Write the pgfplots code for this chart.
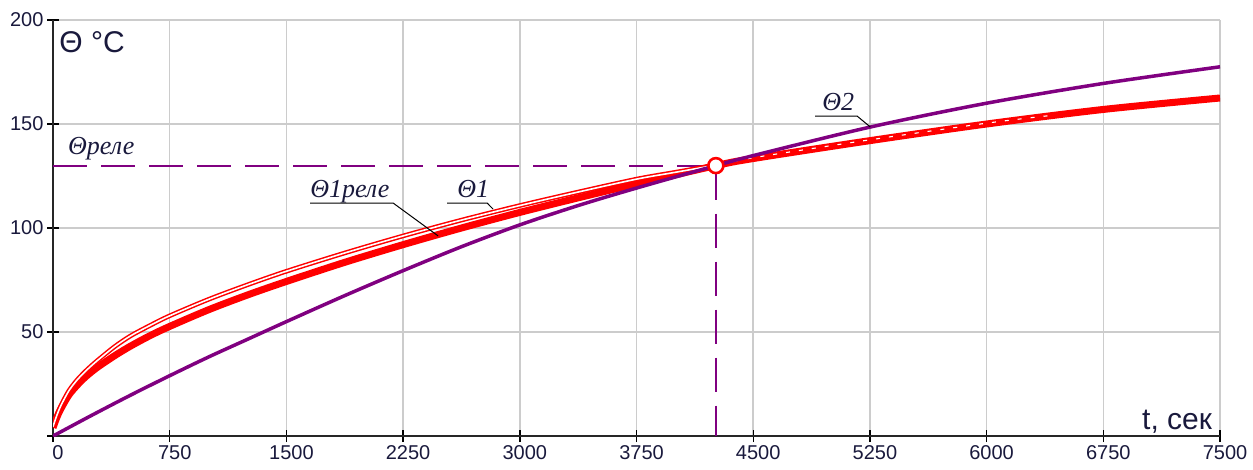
\documentclass[border=0pt]{standalone}
\usepackage{fontspec}
\setmainfont{Liberation Sans}
\newfontfamily\tnr{Liberation Serif}
\usepackage{pgfplots}
\pgfplotsset{compat=1.18}
\definecolor{pur}{RGB}{128,0,128}
\definecolor{txt}{RGB}{25,25,60}
\definecolor{gridc}{RGB}{204,204,204}
\pgfplotstableread{
t y
0 4
25 9
50 13
100 19.5
150 24
200 27.8
250 31
300 33.8
400 38.8
500 43.3
625 48.3
750 52.7
1000 60.7
1250 67.8
1500 74.3
1875 83.5
2250 92
2625 100
3000 107.5
3375 114.5
3750 121.2
4260 130
4500 133.4
5250 142
6000 150
6750 157
7500 162.5
}\threle
\pgfplotstableread{
t y
0 4.5
25 10
50 14.5
100 21.5
150 26.5
200 30.5
250 34
300 37.2
400 43.2
500 48.2
625 53.2
750 57.8
1000 65.7
1250 72.7
1500 79.2
1875 88
2250 96.2
2625 103.8
3000 110.8
3375 117.3
3750 123.5
4000 126.8
4260 130.2
}\thone
\pgfplotstableread{
t y
4300 130.8
4500 133.8
5250 142.4
6000 150.4
6400 154
}\thonetail
\pgfplotstableread{
t y
0 0
250 10
500 19.7
750 29
1000 38
1250 46.5
1500 55
1875 67.5
2250 79.5
2625 91
3000 101.5
3375 110.8
3750 119.2
4260 130
4500 134.8
5250 148.5
6000 160
6750 169.5
7500 177.5
}\thtwo
\begin{document}
\begin{tikzpicture}
\begin{axis}[name=ax, at={(0,0)}, anchor=south west, scale only axis,
  width=1167pt, height=416pt,
  xmin=0, xmax=7500, ymin=0, ymax=200,
  xtick={0,750,...,7500}, ytick={0,50,...,200}, yticklabels={,50,100,150,200},
  axis lines*=left, grid=major, major grid style={gridc, line width=1.5pt},
  axis line style={line width=1.6pt, black!85},
  tick style={black, line width=1.4pt}, major tick length=12pt, tick align=center,
  /pgf/number format/1000 sep={}, /pgf/number format/assume math mode=true,
  tick label style={font=\fontsize{20}{20}\selectfont, text=txt},
  xticklabel style={xshift=5pt},
]
% relay level dashed
\addplot[pur, line width=1.8pt, dash pattern=on 34pt off 14pt, no marks] coordinates {(0,130) (4260,130)};
\addplot[pur, line width=1.8pt, dash pattern=on 34pt off 14pt, no marks] coordinates {(4260,130) (4260,0)};
% theta1 rele (thick)
\addplot[red, line width=7pt, smooth, no marks] table[x=t,y=y] {\threle};
% theta1 (hollow line)
\addplot[red, line width=4.6pt, smooth, no marks] table[x=t,y=y] {\thone};
\addplot[white, line width=1.6pt, smooth, no marks] table[x=t,y=y] {\thone};
\addplot[white, line width=1.1pt, smooth, no marks, dash pattern=on 4pt off 9pt] table[x=t,y=y] {\thonetail};
% theta2
\addplot[pur, line width=3.5pt, smooth, no marks] table[x=t,y=y] {\thtwo};
\addplot[only marks, mark=*, mark size=7.5pt, mark options={draw=red, fill=white, line width=2.6pt}] coordinates {(4260,130)};
% labels
\node[anchor=base west, inner sep=0pt, font=\fontsize{30}{30}\selectfont, text=txt] at (axis cs:40,184.6) {Θ °C};
\node[anchor=base east, inner sep=0pt, font=\fontsize{30}{30}\selectfont, text=txt] at (axis cs:7450,2.9) {t, сек};
\node[anchor=base west, inner sep=0pt, font=\tnr\itshape\fontsize{26}{26}\selectfont, text=txt] at (axis cs:96,135.5) {Θреле};
\node[anchor=base west, inner sep=0pt, font=\tnr\itshape\fontsize{26}{26}\selectfont, text=txt] at (axis cs:1652,114.8) {Θ1реле};
\draw[black, line width=1pt] (axis cs:1652,112) -- (axis cs:2186,112) -- (axis cs:2475,96.2);
\node[anchor=base west, inner sep=0pt, font=\tnr\itshape\fontsize{26}{26}\selectfont, text=txt] at (axis cs:2597,114.8) {Θ1};
\draw[black, line width=1pt] (axis cs:2533,112) -- (axis cs:2790,112) -- (axis cs:2828,109.1);
\node[anchor=base west, inner sep=0pt, font=\tnr\itshape\fontsize{26}{26}\selectfont, text=txt] at (axis cs:4943,156.5) {Θ2};
\draw[black, line width=1pt] (axis cs:4898,153.8) -- (axis cs:5168,153.8) -- (axis cs:5252,148.6);
\end{axis}
\pgfresetboundingbox
\path (ax.south west) ++(-53pt,-33pt) (ax.north east) ++(33pt,20pt);
\end{tikzpicture}
\end{document}
